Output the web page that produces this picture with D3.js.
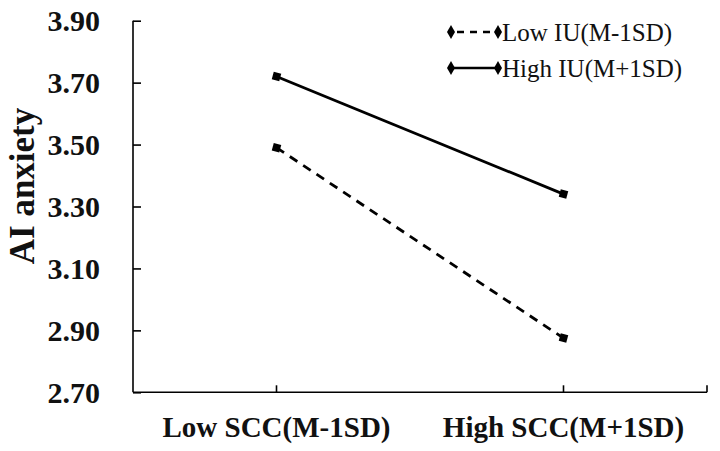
<!DOCTYPE html>
<html><head><meta charset="utf-8">
<script src="https://cdn.jsdelivr.net/npm/d3@7"></script>
<style>body{margin:0;background:#fff}svg{display:block}text{font-family:"Liberation Serif","Times New Roman",serif}</style>
</head><body>
<svg id="c" width="720" height="451"></svg>
<script>
const categories = ["Low SCC(M-1SD)", "High SCC(M+1SD)"];
const seriesNames = ["Low IU(M-1SD)", "High IU(M+1SD)"];
const lowIU = [3.49, 2.875];
const highIU = [3.72, 3.34];
const yTicks = [2.70, 2.90, 3.10, 3.30, 3.50, 3.70, 3.90];
const yTitle = "AI anxiety";

const svg = d3.select("#c");
const x0 = 133, x1 = 707, yTop = 20.7, yBot = 392.3;
const x = d3.scaleBand().domain(categories).range([x0, x1]);
const y = d3.scaleLinear().domain([2.70, 3.90]).range([yBot, yTop]);
const cx = c => x(c) + x.bandwidth() / 2;

// y axis
const yAxis = d3.axisLeft(y).tickValues(yTicks).tickSizeInner(0).tickSizeOuter(0).tickFormat(d3.format(".2f"));
const gy = svg.append("g").attr("transform", `translate(${x0},0)`).call(yAxis);
gy.select(".domain").attr("stroke", "#000").attr("stroke-width", 1.6).attr("d", `M0,${yBot}V${yTop}`);
gy.selectAll(".tick line").attr("stroke", "#000").attr("stroke-width", 1.6).attr("x1", 0).attr("x2", 8);
gy.selectAll(".tick text").remove();
svg.selectAll(".yl").data(yTicks).enter().append("text")
  .attr("x", 100).attr("y", d => y(d)).attr("dy", "0.35em").attr("text-anchor", "end")
  .attr("font-size", 30).attr("font-weight", "bold").attr("fill", "#111").text(d3.format(".2f"));

// x axis
svg.append("line").attr("x1", x0).attr("x2", x1).attr("y1", yBot).attr("y2", yBot).attr("stroke", "#000").attr("stroke-width", 1.6);
const tickXs = categories.map(cx).concat([x1]);
svg.selectAll(".xt").data(tickXs).enter().append("line")
  .attr("x1", d => d).attr("x2", d => d).attr("y1", yBot).attr("y2", yBot - 7).attr("stroke", "#000").attr("stroke-width", 1.6);
svg.selectAll(".xl").data(categories).enter().append("text")
  .attr("x", d => cx(d)).attr("y", 437).attr("text-anchor", "middle")
  .attr("font-size", 29).attr("font-weight", "bold").attr("fill", "#111").text(d => d);

// y title
svg.append("text").attr("transform", "translate(34,186) rotate(-90)").attr("text-anchor", "middle")
  .attr("font-size", 35).attr("font-weight", "bold").attr("fill", "#111").text(yTitle);

// series
const series = [
  {name: seriesNames[0], values: lowIU, dash: "9,7"},
  {name: seriesNames[1], values: highIU, dash: null}
];
const line = d3.line().x((d, i) => cx(categories[i])).y(d => y(d));
const diamond = d3.symbol().type(d3.symbolDiamond).size(55);
const square = d3.symbol().type(d3.symbolSquare).size(60);

series.forEach(s => {
  svg.append("path").datum(s.values).attr("d", line).attr("fill", "none").attr("stroke", "#000")
    .attr("stroke-width", 2.8).attr("stroke-dasharray", s.dash);
  svg.selectAll(null).data(s.values).enter().append("path")
    .attr("d", square).attr("transform", (d, i) => `translate(${cx(categories[i])},${y(d)}) rotate(15)`).attr("fill", "#000");
});

// legend
series.forEach((s, i) => {
  const ly = 32 + i * 36;
  svg.append("line").attr("x1", 451).attr("x2", 498).attr("y1", ly).attr("y2", ly)
    .attr("stroke", "#000").attr("stroke-width", 2.4).attr("stroke-dasharray", s.dash ? "7,6" : null)
    .attr("stroke-dashoffset", s.dash ? -6 : 0);
  [451, 498].forEach(px => svg.append("path").attr("d", diamond).attr("transform", `translate(${px},${ly})`).attr("fill", "#000"));
  svg.append("text").attr("x", 502).attr("y", ly).attr("dy", "0.35em").attr("font-size", 25).attr("fill", "#111").text(s.name);
});
</script>
</body></html>
